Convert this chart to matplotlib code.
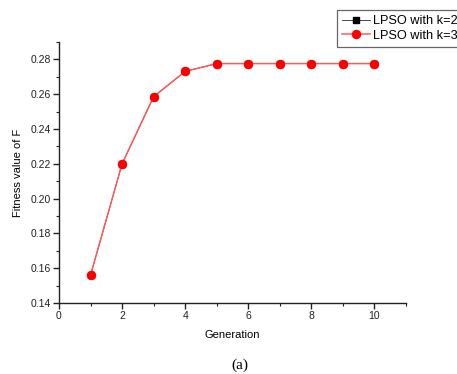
import matplotlib
matplotlib.use("Agg")
import matplotlib.pyplot as plt
from matplotlib.ticker import MultipleLocator

generation = [1, 2, 3, 4, 5, 6, 7, 8, 9, 10]
fit_k2 = [0.156, 0.220, 0.2586, 0.2731, 0.2776, 0.2776, 0.2776, 0.2776, 0.2776, 0.2776]
fit_k3 = [0.156, 0.220, 0.2586, 0.2731, 0.2776, 0.2776, 0.2776, 0.2776, 0.2776, 0.2776]

plt.rcParams['font.family'] = ['Liberation Sans', 'DejaVu Sans']

fig = plt.figure(figsize=(4.57, 3.74), dpi=100)
ax = fig.add_axes([59/457, 1-303/374, (406-59)/457, (303-42)/374])

ax.plot(generation, fit_k2, color='black', marker='s', markersize=4.5, lw=0.5,
        label='LPSO with k=2')
ax.plot(generation, fit_k3, color='#ff5a5a', marker='o', markersize=5.8, lw=1.1,
        markerfacecolor='#ff0000', markeredgecolor='#ff0000', label='LPSO with k=3')

ax.set_xlim(0, 11)
ax.set_ylim(0.14, 0.29)
ax.xaxis.set_major_locator(MultipleLocator(2))
ax.xaxis.set_minor_locator(MultipleLocator(1))
ax.yaxis.set_major_locator(MultipleLocator(0.02))
ax.yaxis.set_minor_locator(MultipleLocator(0.01))
ax.yaxis.set_major_formatter(plt.FuncFormatter(lambda v, p: f"{v:.2f}"))

for s in ['top', 'right']:
    ax.spines[s].set_visible(False)
for s in ['left', 'bottom']:
    ax.spines[s].set_linewidth(1.0)
    ax.spines[s].set_color('#222222')

ax.tick_params(which='major', direction='out', length=4, width=1, labelsize=7.5, colors='#222222', pad=2)
ax.tick_params(which='minor', direction='out', length=2.5, width=0.8, colors='#222222')

ax.set_xlabel('Generation', fontsize=8, labelpad=6)
ax.set_ylabel('Fitness value of F', fontsize=8, labelpad=5)

leg = fig.legend(loc='upper left', bbox_to_anchor=(337/457, 1-10/374), fontsize=9.2,
                 frameon=True, fancybox=False, edgecolor='#666666', framealpha=1,
                 handlelength=2.2, borderpad=0.4, labelspacing=0.2, handletextpad=0.25,
                 borderaxespad=0)
leg.get_frame().set_linewidth(0.9)

fig.text(240/457, 1-365/374, '(a)', fontsize=11, family=['Liberation Serif', 'DejaVu Serif'],
         ha='center', va='center')

fig.savefig('out.png', dpi=100)
